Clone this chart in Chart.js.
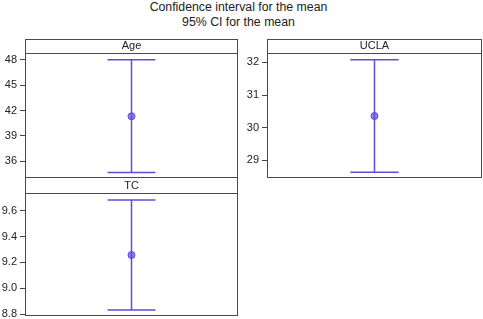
<!DOCTYPE html>
<html>
<head>
<meta charset="utf-8">
<script src="https://cdn.jsdelivr.net/npm/chart.js@4"></script>
<style>
  body { margin: 0; background: #fff; width: 483px; height: 319px; overflow: hidden; position: relative; }
  #title { position: absolute; left: 0; top: 0; width: 477px; text-align: center;
           font: 12.3px "Liberation Sans", Arial, sans-serif; color: #222; line-height: 15px; }
  canvas { position: absolute; }
</style>
</head>
<body>
<div id="title">Confidence interval for the mean<br>95% CI for the mean</div>
<canvas id="c0"></canvas>
<canvas id="c1"></canvas>
<canvas id="c2"></canvas>
<script>
// values
const panels = ['Age', 'UCLA', 'TC'];
const means = [41.33, 30.36, 9.257];
const lowerCI = [34.68, 28.64, 8.831];
const upperCI = [48.0, 32.08, 9.683];
const tickLabels = [
  ['36', '39', '42', '45', '48'],
  ['29', '30', '31', '32'],
  ['8.8', '9.0', '9.2', '9.4', '9.6']
];
const yMins = [34.04, 28.46, 8.785];
const yMaxs = [48.8, 32.29, 9.737];

// where each panel sits on the page
const boxes = [
  { left: 0, top: 39, width: 240, height: 139, axisW: 25, strip: 14, padR: 2, padB: 0 },
  { left: 240, top: 39, width: 243, height: 139, axisW: 27, strip: 14, padR: 1, padB: 0 },
  { left: 0, top: 177, width: 240, height: 142, axisW: 25, strip: 16, padR: 2, padB: 3 }
];

const ciColor = 'rgb(92,78,214)';
const capHalf = 0.225;
const font = "'Liberation Sans', Arial, sans-serif";

// strip header + frame
const panelFrame = {
  id: 'panelFrame',
  afterDraw(chart, args, opts) {
    const { ctx, chartArea: a } = chart;
    ctx.save();
    ctx.strokeStyle = '#4a4a4a';
    ctx.lineWidth = 1;
    const top = a.top - opts.strip;
    ctx.strokeRect(a.left + 0.5, top + 0.5, a.right - a.left - 1, opts.strip);
    ctx.strokeRect(a.left + 0.5, a.top + 0.5, a.right - a.left - 1, a.bottom - a.top - 1);
    ctx.fillStyle = '#222';
    ctx.font = '11px ' + font;
    ctx.textAlign = 'center';
    ctx.textBaseline = 'middle';
    ctx.fillText(opts.label, (a.left + a.right) / 2, a.top - 7);
    ctx.restore();
  }
};

panels.forEach((name, i) => {
  const b = boxes[i];
  const cv = document.getElementById('c' + i);
  cv.style.left = b.left + 'px';
  cv.style.top = b.top + 'px';
  cv.width = b.width;
  cv.height = b.height;

  const ticks = tickLabels[i].map(Number);

  new Chart(cv, {
    type: 'scatter',
    data: {
      datasets: [
        { data: [{ x: 0, y: lowerCI[i] }, { x: 0, y: upperCI[i] }], showLine: true,
          borderColor: ciColor, borderWidth: 1.5, pointRadius: 0 },
        { data: [{ x: -capHalf, y: upperCI[i] }, { x: capHalf, y: upperCI[i] }], showLine: true,
          borderColor: ciColor, borderWidth: 1.5, pointRadius: 0 },
        { data: [{ x: -capHalf, y: lowerCI[i] }, { x: capHalf, y: lowerCI[i] }], showLine: true,
          borderColor: ciColor, borderWidth: 1.5, pointRadius: 0 },
        { data: [{ x: 0, y: means[i] }], pointRadius: 3.5,
          backgroundColor: 'rgba(120,100,240,0.85)', borderColor: ciColor, borderWidth: 1 }
      ]
    },
    options: {
      responsive: false,
      animation: false,
      layout: { autoPadding: false, padding: { top: b.strip, bottom: b.padB, left: 0, right: b.padR } },
      plugins: {
        legend: { display: false },
        tooltip: { enabled: false },
        panelFrame: { label: name, strip: b.strip }
      },
      scales: {
        x: { type: 'linear', min: -1, max: 1, display: false },
        y: {
          type: 'linear',
          min: yMins[i],
          max: yMaxs[i],
          afterBuildTicks: (s) => { s.ticks = ticks.map(v => ({ value: v })); },
          afterFit: (s) => { s.width = b.axisW; s.paddingTop = 0; s.paddingBottom = 0; },
          border: { display: false },
          grid: { drawOnChartArea: false, drawTicks: true, tickLength: 5, color: '#444' },
          ticks: {
            padding: 3,
            color: '#222',
            font: { family: font, size: 11 },
            callback: (v) => tickLabels[i][ticks.indexOf(v)]
          }
        }
      }
    },
    plugins: [panelFrame]
  });
});
</script>
</body>
</html>
